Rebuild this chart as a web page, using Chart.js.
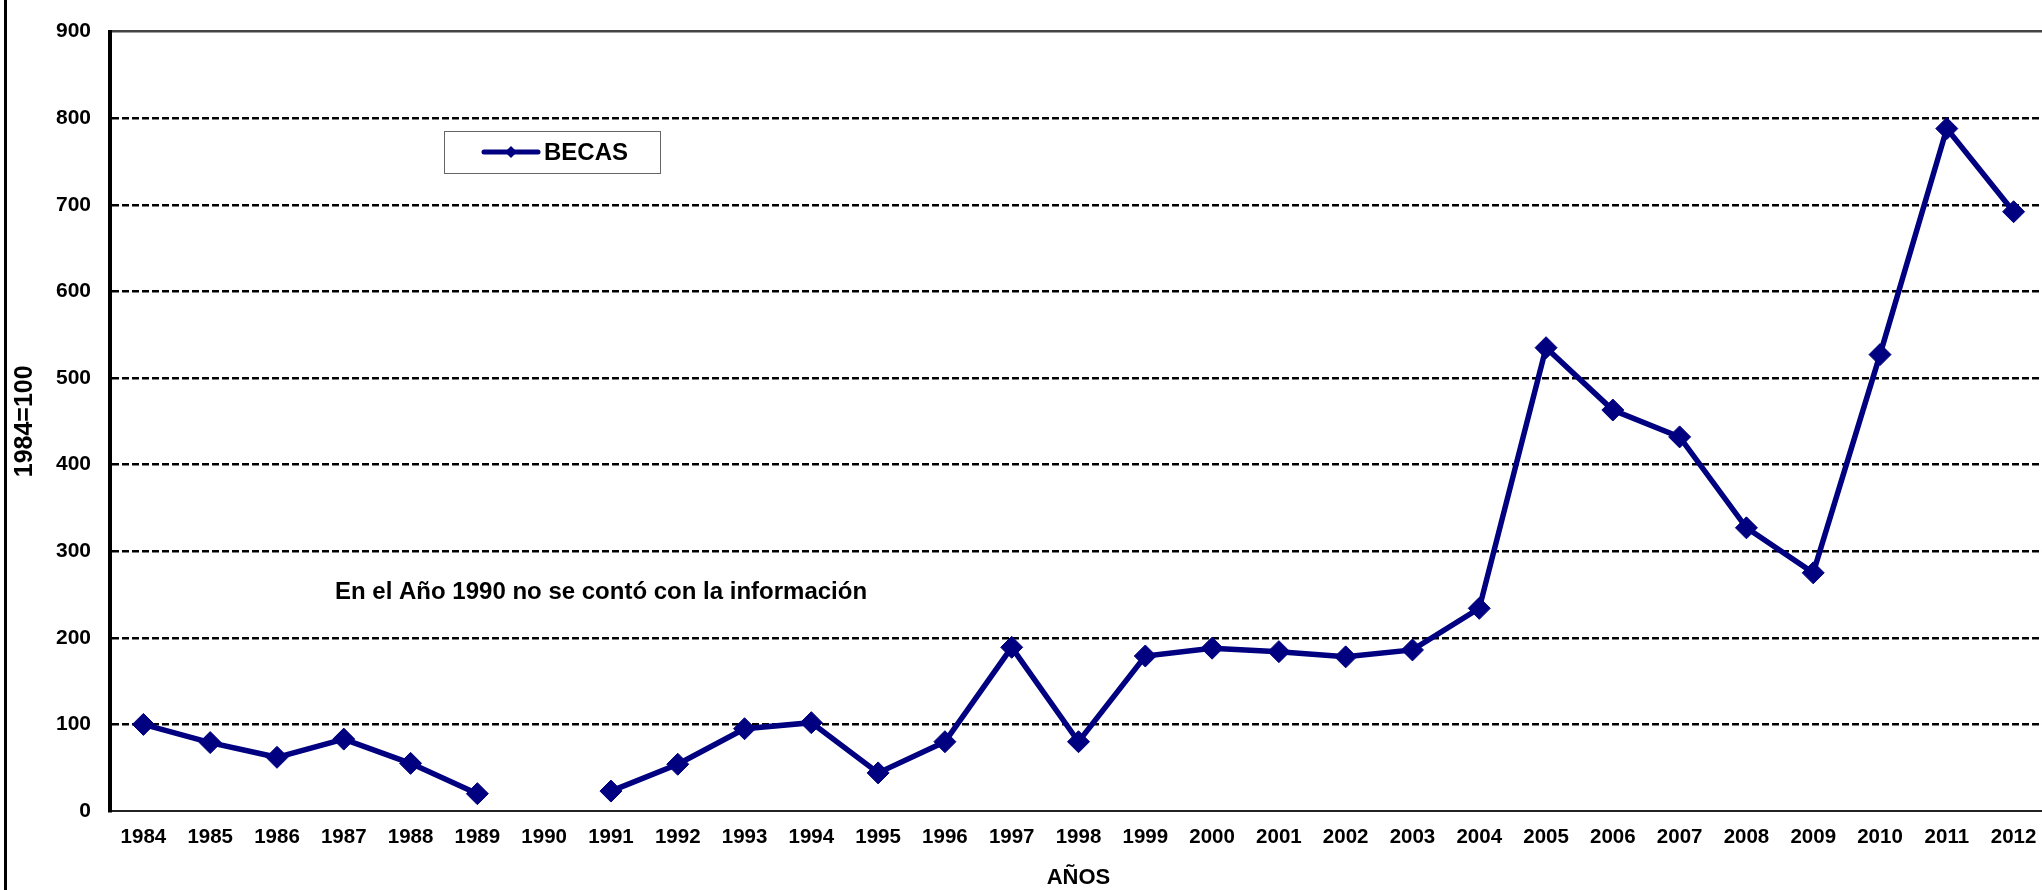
<!DOCTYPE html>
<html>
<head>
<meta charset="utf-8">
<script src="https://cdn.jsdelivr.net/npm/chart.js@4.4.1/dist/chart.umd.min.js"></script>
<style>
  html, body { margin: 0; padding: 0; background: #fff; overflow: hidden; }
  #chart { position: absolute; left: 0; top: 0; }
  #edge { position: absolute; left: 4px; top: 0; width: 3px; height: 890px; background: #000; }
</style>
</head>
<body>
<canvas id="chart" width="2059" height="890"></canvas>
<div id="edge"></div>
<script>
"use strict";

// ── Data
const years = ["1984","1985","1986","1987","1988","1989","1990","1991","1992","1993",
               "1994","1995","1996","1997","1998","1999","2000","2001","2002","2003",
               "2004","2005","2006","2007","2008","2009","2010","2011","2012"];
const becas = [100, 79, 62, 83, 55, 20, null, 23, 54, 95,
               102, 44, 80, 189, 80, 179, 188, 184, 178, 186,
               234, 535, 463, 432, 327, 275, 527, 788, 692];
const yTicks = [0, 100, 200, 300, 400, 500, 600, 700, 800, 900];

const seriesName = "BECAS";
const note       = "En el Año 1990 no se contó con la información";
const yTitle     = "1984=100";
const xTitle     = "AÑOS";

// ── Style
const NAVY = "#000080";
const FONT = "'Liberation Sans', Arial, sans-serif";

// ── Legend box + note (drawn on top of the plot)
const extras = {
  id: "extras",
  afterDraw(chart) {
    const ctx = chart.ctx;
    ctx.save();
    // note
    ctx.fillStyle = "#000";
    ctx.font = `bold 24px ${FONT}`;
    ctx.textBaseline = "middle";
    ctx.textAlign = "left";
    ctx.fillText(note, 335, 592);
    // legend
    ctx.fillStyle = "#fff";
    ctx.fillRect(444.5, 131.5, 216, 42);
    ctx.strokeStyle = "#666";
    ctx.lineWidth = 1;
    ctx.strokeRect(444.5, 131.5, 216, 42);
    ctx.strokeStyle = NAVY;
    ctx.lineWidth = 5;
    ctx.lineCap = "round";
    ctx.beginPath(); ctx.moveTo(484, 152); ctx.lineTo(538, 152); ctx.stroke();
    ctx.fillStyle = NAVY;
    ctx.beginPath();
    ctx.moveTo(511, 146); ctx.lineTo(517, 152); ctx.lineTo(511, 158); ctx.lineTo(505, 152);
    ctx.closePath(); ctx.fill();
    ctx.fillStyle = "#000";
    ctx.font = `bold 24px ${FONT}`;
    ctx.fillText(seriesName, 544, 153);
    ctx.restore();
  }
};

new Chart(document.getElementById("chart").getContext("2d"), {
  type: "line",
  data: {
    labels: years,
    datasets: [{
      label: seriesName,
      data: becas,
      borderColor: NAVY,
      backgroundColor: NAVY,
      borderWidth: 5.5,
      pointStyle: "rectRot",
      pointRadius: 11,
      pointBorderWidth: 1,
      pointBackgroundColor: NAVY,
      pointBorderColor: NAVY,
      spanGaps: false,
      tension: 0,
    }]
  },
  options: {
    responsive: false,
    animation: false,
    layout: { padding: { top: 22.5, right: 5, bottom: 0, left: 0 } },
    plugins: { legend: { display: false }, tooltip: { enabled: false } },
    scales: {
      x: {
        offset: true,
        grid: { display: true, drawOnChartArea: false, drawTicks: false },
        border: { display: true, color: "#222", width: 2 },
        ticks: { color: "#000", padding: 14, maxRotation: 0, autoSkip: false,
                 font: { family: FONT, size: 20.5, weight: "bold", lineHeight: 1.2 } },
        title: { display: true, text: xTitle, color: "#000", padding: { top: 0, bottom: 1 },
                 font: { family: FONT, size: 22, weight: "bold", lineHeight: 1 } },
        afterFit: s => { s.height = 79; },
      },
      y: {
        min: 0, max: 900,
        afterBuildTicks: s => { s.ticks = yTicks.map(v => ({ value: v })); },
        grid: {
          drawTicks: false,
          lineWidth: 2.5,
          color: c => c.tick && c.tick.value === 0 ? "rgba(0,0,0,0)" : (c.tick && c.tick.value === 900 ? "#444" : "#000"),
        },
        border: {
          display: true, color: "#000", width: 4,
          dash: c => c.tick && c.tick.value === 900 ? [] : [7, 3],
        },
        ticks: { color: "#000", padding: 19,
                 font: { family: FONT, size: 21, weight: "bold" } },
        title: { display: true, text: yTitle, color: "#000", padding: { top: 12.5, bottom: 0 },
                 font: { family: FONT, size: 25, weight: "bold", lineHeight: 1 } },
        afterFit: s => { s.width = 110; },
      }
    }
  },
  plugins: [extras]
});
</script>
</body>
</html>
